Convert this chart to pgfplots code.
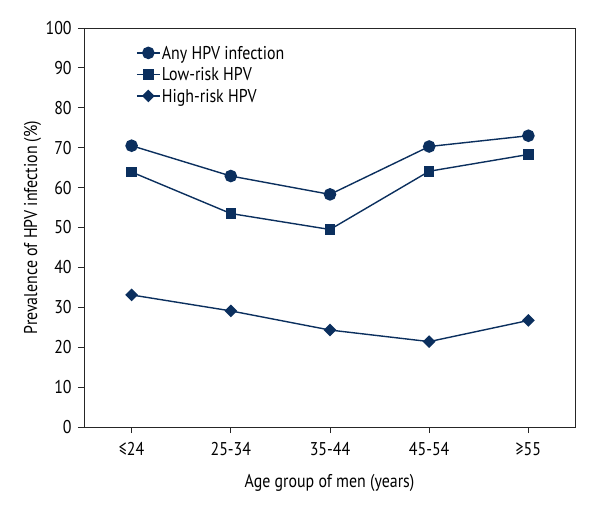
\documentclass[border=0pt]{standalone}
\usepackage{fontspec}
\setmainfont[FakeStretch=0.86]{PT Sans}
\usepackage{pgfplots}
\pgfplotsset{compat=1.18}
\definecolor{navy}{HTML}{0B2F5E}
\newcommand{\fs}{\fontsize{18.5}{21}\selectfont}
\begin{document}
\begin{tikzpicture}
\fs
\path[use as bounding box] (-84pt,-93pt) rectangle (516pt,427pt);
\begin{axis}[
  scale only axis,
  width=491pt, height=399pt,
  xmin=-0.48, xmax=4.47,
  ymin=0, ymax=100,
  xtick={0,1,2,3,4},
  xticklabels={≤24,25-34,35-44,45-54,≥55},
  ytick={0,10,...,100},
  tick align=outside,
  xtick pos=bottom, ytick pos=left,
  major tick length=6pt,
  axis line style={black!85, line width=0.9pt},
  tick style={black!85, line width=0.9pt},
  /pgf/number format/assume math mode=true,
  tick label style={font=\fs},
  label style={font=\fs},
  xticklabel style={yshift=-3pt},
  xlabel={Age group of men (years)},
  ylabel={Prevalence of HPV infection (\%)},
  xlabel style={yshift=-6pt},
  ylabel style={yshift=-8pt},
  legend style={draw=none, fill=none, at={(0.104,0.962)}, anchor=north west,
    font=\fs, row sep=4.5pt, inner sep=1pt,
    nodes={inner sep=1.5pt, text depth=0.1ex},
    /tikz/every even column/.append style={column sep=4pt}},
  legend image code/.code={\draw[mark repeat=2,mark phase=2] plot coordinates {(0cm,0cm) (0.4cm,0cm) (0.8cm,0cm)};},
  legend cell align=left,
]
\addplot[navy, line width=1.4pt, mark=*, mark size=5.6pt, mark options={fill=navy, draw=navy}]
  coordinates {(0,70.5) (1,62.9) (2,58.3) (3,70.3) (4,73.0)};
\addlegendentry{Any HPV infection}
\addplot[navy, line width=1.4pt, mark=square*, mark size=4.6pt, mark options={fill=navy, draw=navy}]
  coordinates {(0,63.9) (1,53.5) (2,49.5) (3,64.1) (4,68.3)};
\addlegendentry{Low-risk HPV}
\addplot[navy, line width=1.4pt, mark=square*, mark size=3.8pt, mark options={fill=navy, draw=navy, rotate=45}]
  coordinates {(0,33.1) (1,29.1) (2,24.3) (3,21.4) (4,26.7)};
\addlegendentry{High-risk HPV}
\end{axis}
\end{tikzpicture}
\end{document}
